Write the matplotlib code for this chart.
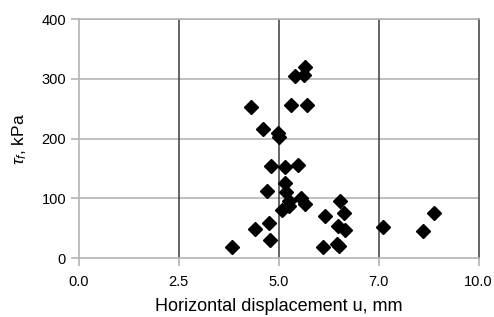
import matplotlib.pyplot as plt

plt.rcParams["font.family"] = ["Liberation Sans", "DejaVu Sans"]
plt.rcParams["mathtext.fontset"] = "custom"
plt.rcParams["mathtext.rm"] = "Liberation Sans"
plt.rcParams["mathtext.it"] = "Liberation Sans:italic"

# displacement u (mm) and shear strength tau_f (kPa)
u_mm = [3.84, 4.41, 4.75, 4.79, 4.70, 4.31, 4.60, 4.98, 5.02, 4.81,
        5.15, 5.48, 5.16, 5.19, 5.08, 5.27, 5.25, 5.56, 5.65, 5.30,
        5.70, 5.41, 5.67, 5.64, 6.16, 6.10, 6.46, 6.52, 6.54, 6.64,
        6.48, 6.66, 7.60, 8.60, 8.89]
tau_kpa = [19, 48, 59, 31, 112, 252, 216, 210, 203, 154,
           153, 156, 126, 110, 81, 87, 95, 101, 90, 256,
           256, 305, 319, 306, 70, 18, 24, 20, 96, 75,
           54, 47, 52, 46, 76]

x_ticks = [0.0, 2.5, 5.0, 7.5, 10.0]
x_tick_labels = ["0.0", "2.5", "5.0", "7.0", "10.0"]
y_ticks = [0, 100, 200, 300, 400]

fig = plt.figure(figsize=(4.94, 3.17), dpi=100)
ax = fig.add_axes([0.159, 0.186, 0.81, 0.754])

ax.set_xlim(0, 10)
ax.set_ylim(0, 400)
ax.set_xticks(x_ticks)
ax.set_xticklabels(x_tick_labels)
ax.set_yticks(y_ticks)

for y in y_ticks[1:]:
    ax.axhline(y, color="#b4b4b4", lw=1.2, zorder=1)
for x in x_ticks[1:-1]:
    ax.axvline(x, color="#3a3a3a", lw=1.1, zorder=1)

ax.plot(u_mm, tau_kpa, linestyle="none", marker="D", ms=7.3,
        color="black", zorder=3)

for side in ["left", "bottom", "top"]:
    ax.spines[side].set_color("#b4b4b4")
    ax.spines[side].set_linewidth(1.2)
ax.spines["right"].set_color("#3a3a3a")
ax.spines["right"].set_linewidth(1.1)

ax.tick_params(axis="both", direction="out", length=6, width=1.2,
               color="#b4b4b4", labelsize=10.5, pad=3)
ax.tick_params(axis="x", pad=6)

ax.set_xlabel("Horizontal displacement u, mm", fontsize=13, labelpad=7)
ax.set_ylabel(r"$\tau_f$, kPa", fontsize=12.5, labelpad=9)

fig.savefig("out.png", dpi=100)
